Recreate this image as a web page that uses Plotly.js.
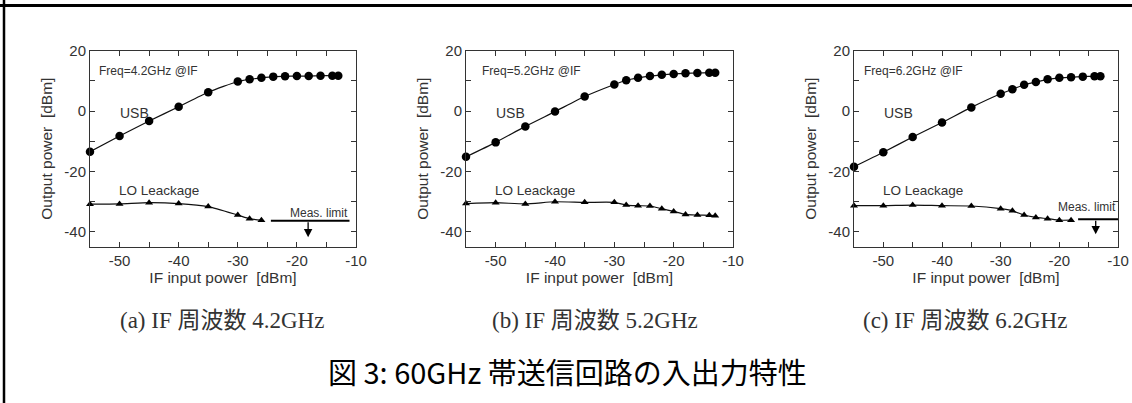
<!DOCTYPE html>
<html>
<head>
<meta charset="utf-8">
<script src="https://cdn.plot.ly/plotly-3.0.1.min.js"></script>
<style>html,body{margin:0;padding:0;background:#fff;}#chart{width:1132px;height:403px;}</style>
</head>
<body>
<div id="chart"></div>
<script>
// ---- data ----
const xUSB = [-55,-50,-45,-40,-35,-30,-28,-26,-24,-22,-20,-18,-16,-14,-13];
const usb42 = [-13.5,-8.3,-3.3,1.4,6.2,9.8,10.5,11.0,11.4,11.5,11.6,11.6,11.7,11.7,11.7];
const usb52 = [-15.2,-10.4,-5.1,-0.2,4.8,8.8,10.2,11.0,11.6,12.0,12.3,12.5,12.6,12.7,12.7];
const usb62 = [-18.5,-13.7,-8.6,-3.8,1.2,5.7,7.2,8.7,9.6,10.5,11.0,11.2,11.4,11.5,11.5];

const xLO42 = [-55,-50,-45,-40,-35,-30,-28,-26];
const lo42  = [-30.9,-30.8,-30.4,-30.7,-31.7,-34.5,-35.7,-36.2];
const xLO52 = [-55,-50,-45,-40,-35,-30,-28,-26,-24,-22,-20,-18,-16,-14,-13];
const lo52  = [-30.7,-30.4,-30.8,-30.1,-30.3,-30.3,-31.2,-31.4,-31.5,-32.4,-33.3,-34.3,-34.5,-34.6,-34.7];
const xLO62 = [-55,-50,-45,-40,-35,-30,-28,-26,-24,-22,-20,-18];
const lo62  = [-31.4,-31.4,-31.2,-31.4,-31.5,-32.4,-33.1,-34.5,-35.3,-35.7,-36.2,-36.2];

// measurement limits (line x-extent, level, arrow x and tip)
const measX42 = [-24.4,-11.1], measY42 = [-36.4,-36.4], measArrow42 = [-18.1,-41.9];
const measX62 = [-16.8,-10.0], measY62 = [-35.9,-35.9], measArrow62 = [-13.8,-40.9];

const freqLabels = ['Freq=4.2GHz @IF','Freq=5.2GHz @IF','Freq=6.2GHz @IF'];
const subCaptions = ['(a) IF 周波数 4.2GHz','(b) IF 周波数 5.2GHz','(c) IF 周波数 6.2GHz'];
const mainCaption = '図 3: 60GHz 帯送信回路の入出力特性';
const xTickVals = [-55,-50,-45,-40,-35,-30,-25,-20,-15,-10];
const xTickText = ['','-50','','-40','','-30','','-20','','-10'];
const yTickVals = [-40,-30,-20,-10,0,10,20];
const yTickText = ['-40','','-20','','0','','20'];

// ---- layout helpers ----
const W = 1132, H = 403;
const xDomains = [[90/W,356/W],[466/W,733/W],[854/W,1118/W]];
const yDomain = [1-246.7/H, 1-50.7/H];
const subCapX = [222, 595, 965];
const sans = 'Liberation Sans, Arial, sans-serif';
const txt = '#333';

const usbSets = [usb42, usb52, usb62];
const loX = [xLO42, xLO52, xLO62];
const loY = [lo42, lo52, lo62];

const traces = [];
const layout = {
  width: W, height: H,
  margin: {l:0,r:0,t:0,b:0},
  paper_bgcolor: '#fff', plot_bgcolor: '#fff',
  showlegend: false,
  font: {family: sans, color: txt, size: 15},
  annotations: [], shapes: []
};

for (let i = 0; i < 3; i++) {
  const sfx = i === 0 ? '' : String(i+1);
  const xa = 'x' + sfx, ya = 'y' + sfx;
  traces.push({x: xUSB, y: usbSets[i], xaxis: xa, yaxis: ya, type: 'scatter', mode: 'lines+markers',
    line: {color: '#111', width: 1.2, shape: 'spline', smoothing: 0.6},
    marker: {symbol: 'circle', size: 8.5, color: '#000'}, cliponaxis: false});
  traces.push({x: loX[i], y: loY[i], xaxis: xa, yaxis: ya, type: 'scatter', mode: 'lines+markers',
    line: {color: '#111', width: 1.2, shape: 'spline', smoothing: 0.6},
    marker: {symbol: 'triangle-up', size: 7, color: '#000'}, cliponaxis: false});

  layout['xaxis' + sfx] = {
    domain: xDomains[i], anchor: ya, range: [-55,-10],
    tickmode: 'array', tickvals: xTickVals, ticktext: xTickText,
    ticks: 'inside', ticklen: 5, tickcolor: '#333', tickwidth: 1,
    showline: true, linecolor: '#333', linewidth: 1, mirror: 'ticks',
    showgrid: false, zeroline: false,
    tickfont: {family: sans, size: 15, color: txt},
    title: {text: 'IF input power\u00a0 [dBm]', font: {family: sans, size: 15.5, color: txt}, standoff: 3}
  };
  layout['yaxis' + sfx] = {
    domain: yDomain, anchor: xa, range: [-45,20],
    tickmode: 'array', tickvals: yTickVals, ticktext: yTickText,
    ticks: 'inside', ticklen: 5, tickcolor: '#333', tickwidth: 1,
    showline: true, linecolor: '#333', linewidth: 1, mirror: 'ticks',
    showgrid: false, zeroline: false,
    tickfont: {family: sans, size: 15, color: txt},
    title: {text: 'Output power\u00a0 [dBm]', font: {family: sans, size: 15.5, color: txt}, standoff: 7}
  };

  const freqX = [-53.8,-52.6,-53.6][i];
  layout.annotations.push({xref: xa, yref: ya, x: freqX, y: 13.4, xanchor: 'left', yanchor: 'middle',
    text: freqLabels[i], showarrow: false, font: {family: sans, size: 12, color: txt}});
  layout.annotations.push({xref: xa, yref: ya, x: -50.3, y: -0.7, xanchor: 'left', yanchor: 'middle',
    text: 'USB', showarrow: false, font: {family: sans, size: 14, color: txt}});
  layout.annotations.push({xref: xa, yref: ya, x: -50.4, y: -26.3, xanchor: 'left', yanchor: 'middle',
    text: 'LO Leackage', showarrow: false, font: {family: sans, size: 13.5, color: txt}});

  layout.annotations.push({xref: 'paper', yref: 'paper', x: subCapX[i]/W,
    y: 1-320/H, xanchor: 'center', yanchor: 'middle', text: subCaptions[i], showarrow: false,
    font: {family: 'Liberation Serif, "Noto Sans CJK JP", serif', size: 23, color: '#333'}});
}

// measurement limits
const measSets = [[measX42, measY42, measArrow42, '', -11.0, -33.8], [measX62, measY62, measArrow62, '3', -10.0, -31.7]];
measSets.forEach(m => {
  const xa = 'x' + m[3], ya = 'y' + m[3];
  traces.push({x: m[0], y: m[1], xaxis: xa, yaxis: ya, type: 'scatter', mode: 'lines',
    line: {color: '#000', width: 2}, cliponaxis: false});
  layout.annotations.push({xref: xa, yref: ya, x: m[2][0], y: m[2][1], axref: xa, ayref: ya,
    ax: m[2][0], ay: m[1][0], text: '', showarrow: true, arrowhead: 2, arrowsize: 1.3, arrowwidth: 1.3, arrowcolor: '#000'});
  layout.annotations.push({xref: xa, yref: ya, x: m[4], y: m[5], xanchor: 'right', yanchor: 'middle',
    text: 'Meas. limit', showarrow: false, font: {family: sans, size: 12, color: txt}});
});

// main caption
layout.annotations.push({xref: 'paper', yref: 'paper', x: 567/W, y: 1-371/H, xanchor: 'center', yanchor: 'middle',
  text: mainCaption, showarrow: false, font: {family: '"Noto Sans CJK JP", sans-serif', size: 29, color: '#000'}});

// figure frame (top and left)
layout.shapes.push({type: 'line', xref: 'paper', yref: 'paper', x0: 0, x1: 1, y0: 1-5.5/H, y1: 1-5.5/H, line: {color: '#000', width: 3}});
layout.shapes.push({type: 'line', xref: 'paper', yref: 'paper', x0: 4/W, x1: 4/W, y0: 0, y1: 1, line: {color: '#000', width: 2.5}});

Plotly.newPlot('chart', traces, layout, {displayModeBar: false, staticPlot: true});
</script>
</body>
</html>
